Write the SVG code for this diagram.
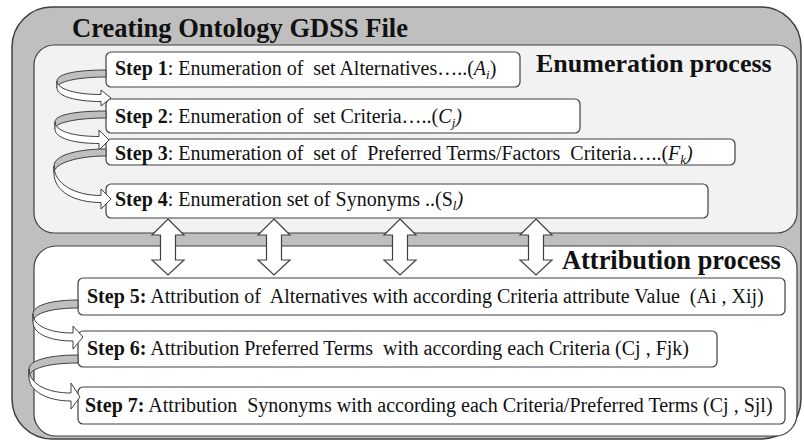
<svg xmlns="http://www.w3.org/2000/svg" width="804" height="441" viewBox="0 0 804 441">
<style>
text{font-family:"Liberation Serif","Times New Roman",serif;fill:#111;white-space:pre}
.st{font-size:20px}
.b{font-weight:bold}
.i{font-style:italic}
.sub{font-style:italic;font-size:13px}
.box{fill:#fff;stroke:#404040;stroke-width:1.2}
.back{fill:#bfbfbf;stroke:#404040;stroke-width:1}
.front{fill:#fff;stroke:#404040;stroke-width:1}
.dbl{fill:#fff;stroke:#404040;stroke-width:1.2}
</style>
<defs>
<path id="dblarrow" d="M0,219 L16,235 L7.5,235 L7.5,260 L16,260 L0,275 L-16,260 L-7.5,260 L-7.5,235 L-16,235 Z"/>
</defs>
<g id="outer">
<rect x="12" y="7" width="789" height="432" rx="40" fill="#bfbfbf" stroke="#404040" stroke-width="1.5"/>
<text x="72" y="37" class="b" font-size="26.5">Creating Ontology GDSS File</text>
</g>
<g id="enumeration-panel">
<rect x="34" y="45" width="763" height="188" rx="20" fill="#f2f2f2" stroke="#404040" stroke-width="1.2"/>
<text x="536" y="72" class="b" font-size="26">Enumeration process</text>
</g>
<g id="attribution-panel">
<rect x="34" y="246" width="763" height="190" rx="22" fill="#fff" stroke="#404040" stroke-width="1.2"/>
<text x="562" y="269" class="b" font-size="26.4">Attribution process</text>
</g>
<g id="step1">
<rect class="box" x="106" y="52" width="414" height="35" rx="5"/>
<text class="st" x="115" y="75"><tspan class="b">Step 1</tspan>: Enumeration of  set Alternatives…..(<tspan class="i">A</tspan><tspan class="sub" dy="3.5">i</tspan><tspan dy="-3.5">)</tspan></text>
</g>
<g id="step2">
<rect class="box" x="106" y="99" width="474" height="34" rx="5"/>
<text class="st" x="115" y="123"><tspan class="b">Step 2</tspan>: Enumeration of  set Criteria…..(<tspan class="i">C</tspan><tspan class="sub" dy="3.5">j</tspan><tspan class="i" dy="-3.5">)</tspan></text>
</g>
<g id="step3">
<rect class="box" x="106" y="139" width="629" height="26" rx="5"/>
<text class="st" x="115" y="160"><tspan class="b">Step 3</tspan>: Enumeration of  set of  Preferred Terms/Factors  Criteria…..(<tspan class="i">F</tspan><tspan class="sub" dy="3.5">k</tspan><tspan class="i" dy="-3.5">)</tspan></text>
</g>
<g id="step4">
<rect class="box" x="106" y="184" width="602" height="34" rx="5"/>
<text class="st" x="115" y="206"><tspan class="b">Step 4</tspan>: Enumeration set of Synonyms ..(S<tspan class="sub" dy="3.5">l</tspan><tspan class="i" dy="-3.5">)</tspan></text>
</g>
<g id="step5">
<rect class="box" x="78" y="278" width="707" height="37" rx="5"/>
<text class="st" x="87" y="303"><tspan class="b">Step 5:</tspan> Attribution of  Alternatives with according Criteria attribute Value  (Ai , Xij)</text>
</g>
<g id="step6">
<rect class="box" x="78" y="331" width="639" height="36" rx="5"/>
<text class="st" x="87" y="355"><tspan class="b">Step 6:</tspan> Attribution Preferred Terms  with according each Criteria (Cj , Fjk)</text>
</g>
<g id="step7">
<rect class="box" x="78" y="387" width="707" height="37" rx="5"/>
<text class="st" x="85" y="412"><tspan class="b">Step 7:</tspan> Attribution  Synonyms with according each Criteria/Preferred Terms (Cj , Sjl)</text>
</g>
<g id="connectors">
<!-- curved arrow step1 -> step2 -->
<path class="back" d="M106,70 C80,70 57,73 57,81 L57,88 C57,81 80,77 106,77 Z"/>
<path class="front" d="M57,81 C57,89 75,94.5 101,94.5 L101,90 L111,98 L101,106 L101,101.5 C75,101.5 57,96 57,88 Z"/>
<!-- step2 -> step3 -->
<path class="back" d="M106,111 C79,111 55,114 55,122 L55,129 C55,122 79,118 106,118 Z"/>
<path class="front" d="M55,122 C55,131 73,136.5 99,136.5 L99,130 L109,140 L99,150 L99,143.5 C73,143.5 55,138 55,129 Z"/>
<!-- step3 -> step4 -->
<path class="back" d="M106,149 C78,149 54,155 54,166 L54,173 C54,163 78,156 106,156 Z"/>
<path class="front" d="M54,166 C54,184 75,195.5 101,195.5 L101,189 L111,199 L101,209 L101,202.5 C75,202.5 54,192 54,173 Z"/>
<!-- step5 -> step6 -->
<path class="back" d="M78,300 C52,300 33,305 33,314 L33,322 C33,313 52,308 78,308 Z"/>
<path class="front" d="M33,314 C33,326 50,333 73,333 L73,326 L83,337 L73,349 L73,341 C50,341 33,334 33,322 Z"/>
<!-- step6 -> step7 -->
<path class="back" d="M78,355 C50,355 29,360 29,369 L29,377 C29,368 50,363 78,363 Z"/>
<path class="front" d="M29,369 C29,384 47,393 71,393 L71,383 L80,397 L71,409 L71,401 C47,401 29,391 29,377 Z"/>
<!-- double arrows between panels -->
<use href="#dblarrow" class="dbl" transform="translate(168,0)"/>
<use href="#dblarrow" class="dbl" transform="translate(274,0)"/>
<use href="#dblarrow" class="dbl" transform="translate(400,0)"/>
<use href="#dblarrow" class="dbl" transform="translate(536,0)"/>
</g>
</svg>
